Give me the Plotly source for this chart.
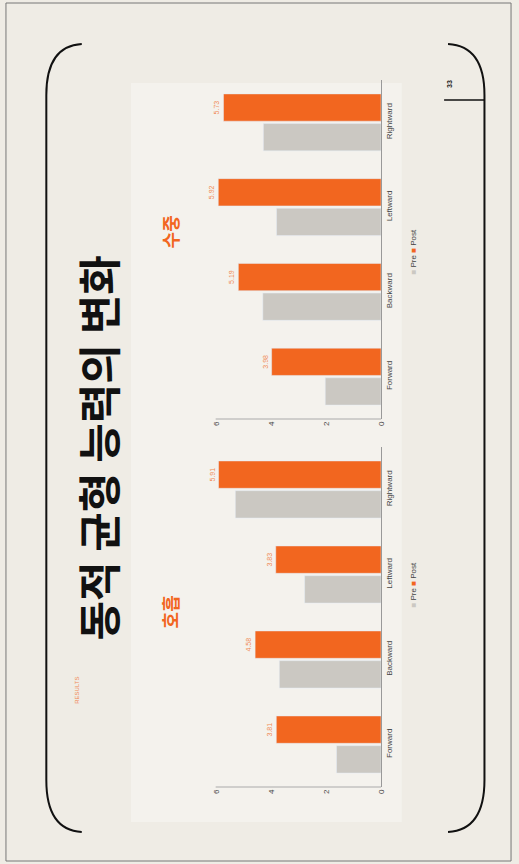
import plotly.graph_objects as go

categories = ["Forward", "Backward", "Leftward", "Rightward"]
breath_pre = [1.62, 3.70, 2.78, 5.30]
breath_post = [3.81, 4.58, 3.83, 5.91]
water_pre = [2.03, 4.30, 3.80, 4.28]
water_post = [3.98, 5.19, 5.92, 5.73]
value_ticks = [0, 2, 4, 6]

W, H = 519, 864
PRE_C = "#cbc8c2"
POST_C = "#f2661f"
BG = "#efece5"

def px(x):
    return x / W

def py(y):
    return 1 - y / H

fig = go.Figure()

panels = [
    ("x", "y", breath_pre, breath_post),
    ("x2", "y2", water_pre, water_post),
]
for xa, ya, pre, post in panels:
    fig.add_trace(go.Bar(y=categories, x=pre, orientation="h", marker_color=PRE_C,
                         name="Pre", xaxis=xa, yaxis=ya, showlegend=False))
    fig.add_trace(go.Bar(y=categories, x=post, orientation="h", marker_color=POST_C,
                         name="Post", xaxis=xa, yaxis=ya, showlegend=False,
                         text=[f"{v:.2f}" for v in post], textposition="outside",
                         textangle=-90, cliponaxis=False,
                         textfont=dict(size=7, color="#f08a55", family="Liberation Sans")))

xdom = [px(215), px(384)]
common_x = dict(range=[6.05, 0], tickvals=value_ticks, tickangle=-90, showgrid=False,
                zeroline=False, showline=False, ticks="",
                tickfont=dict(size=8, color="#444", family="Liberation Sans"))
common_y = dict(side="right", tickangle=-90, showgrid=False, zeroline=False, showline=True,
                linecolor="#999", linewidth=1, ticks="",
                tickfont=dict(size=8, color="#444", family="Liberation Sans"))

fig.update_layout(
    width=W, height=H, margin=dict(l=0, r=0, t=0, b=0),
    paper_bgcolor=BG, plot_bgcolor="rgba(0,0,0,0)",
    barmode="group", bargap=0.3, bargroupgap=0.08,
    xaxis=dict(domain=xdom, anchor="y", **common_x),
    yaxis=dict(domain=[py(787), py(447)], anchor="x", **common_y),
    xaxis2=dict(domain=xdom, anchor="y2", **common_x),
    yaxis2=dict(domain=[py(419), py(80)], anchor="x2", **common_y),
)

shapes = []
shapes.append(dict(type="rect", xref="paper", yref="paper", x0=px(130), x1=px(405),
                   y0=py(822), y1=py(83), fillcolor="#f4f2ed", line=dict(width=0), layer="below"))
for yb in (787, 419):
    shapes.append(dict(type="line", xref="paper", yref="paper", x0=px(216), x1=px(384),
                       y0=py(yb), y1=py(yb), line=dict(color="#aaa", width=1)))
shapes.append(dict(type="rect", xref="paper", yref="paper", x0=px(3), x1=px(516),
                   y0=py(861), y1=py(3), line=dict(color="#777", width=1)))
shapes.append(dict(type="path", xref="paper", yref="paper",
                   path=f"M {px(80)},{py(44)} Q {px(44)},{py(46)} {px(44)},{py(95)} L {px(44)},{py(780)} Q {px(44)},{py(830)} {px(80)},{py(832)}",
                   line=dict(color="#111", width=2)))
shapes.append(dict(type="path", xref="paper", yref="paper",
                   path=f"M {px(452)},{py(44)} Q {px(489)},{py(46)} {px(489)},{py(95)} L {px(489)},{py(780)} Q {px(489)},{py(830)} {px(452)},{py(832)}",
                   line=dict(color="#111", width=2)))
shapes.append(dict(type="line", xref="paper", yref="paper", x0=px(448), x1=px(489),
                   y0=py(100), y1=py(100), line=dict(color="#111", width=1.5)))
fig.update_layout(shapes=shapes)

def note(text, x, y, size, color, family="Liberation Sans"):
    return dict(text=text, x=px(x), y=py(y), xref="paper", yref="paper",
                xanchor="center", yanchor="middle", showarrow=False, textangle=-90,
                font=dict(size=size, color=color, family=family))

ann = [
    note("<b>동적 균형 능력의 변화</b>", 95, 448, 43, "#111", "Noto Sans CJK KR"),
    note("<b>호흡</b>", 170, 612, 18, POST_C, "Noto Sans CJK KR"),
    note("<b>수중</b>", 170, 232, 18, POST_C, "Noto Sans CJK KR"),
    note("RESULTS", 75, 690, 6, "#f08a55"),
    note("<b>33</b>", 454, 84, 7, "#222"),
]
for yc in (585, 252):
    ann.append(note(f"<span style='color:{PRE_C}'>■</span> Pre <span style='color:{POST_C}'>■</span> Post",
                    416, yc, 8, "#444"))
fig.update_layout(annotations=ann)

fig.write_html("out.html")
